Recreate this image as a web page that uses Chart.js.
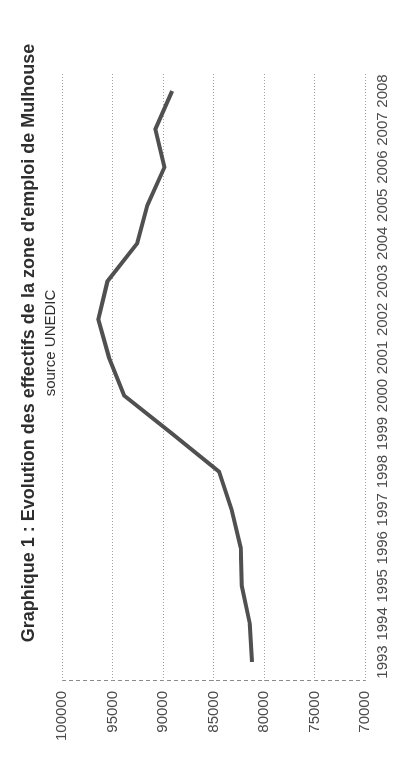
<!DOCTYPE html>
<html>
<head>
<meta charset="utf-8">
<script src="https://cdn.jsdelivr.net/npm/chart.js@4/dist/chart.umd.min.js"></script>
<style>
  html, body { margin:0; padding:0; background:#fff; width:403px; height:779px; overflow:hidden; }
  #rot { position:absolute; left:0; top:0; width:779px; height:403px; transform-origin:0 0;
         transform: translate(0px, 779px) rotate(-90deg); background:#fff; }
  #chart { position:absolute; left:0; top:0; }
  .t { position:absolute; white-space:nowrap; transform:translateX(-50%);
       font-family:"Liberation Sans", Arial, sans-serif; color:#2e2e2e; }
  #title { left:436px; top:19px; font-size:18px; line-height:18px; font-weight:bold; }
  #subtitle { left:436px; top:42px; font-size:15px; line-height:15px; }
  .frame { position:absolute; }
</style>
</head>
<body>
<div class="frame" style="left:0;top:2px;width:403px;height:2px;background:#5a5a5a;"></div>
<div class="frame" style="left:0;top:751px;width:403px;height:2px;background:#5a5a5a;"></div>
<div class="frame" style="left:399px;top:4px;width:1px;height:747px;background:#c8c8c8;"></div>
<div id="rot">
  <canvas id="chart" width="779" height="403"></canvas>
  <div id="title" class="t">Graphique 1 : Evolution des effectifs de la zone d'emploi de Mulhouse</div>
  <div id="subtitle" class="t">source UNEDIC</div>
</div>
<script>
const years = ['1993','1994','1995','1996','1997','1998','1999','2000','2001','2002','2003','2004','2005','2006','2007','2008'];
const effectifs = [81200, 81400, 82200, 82300, 83200, 84450, 89100, 93850, 95350, 96400, 95500, 92550, 91550, 89850, 90750, 89100];
const valueMin = 70000;
const valueMax = 100000;
const valueStep = 5000;

const FONT = '"Liberation Sans", Arial, sans-serif';

new Chart(document.getElementById('chart'), {
  type: 'line',
  data: {
    labels: years,
    datasets: [{
      data: effectifs,
      borderColor: '#505050',
      borderWidth: 4,
      pointRadius: 0,
      tension: 0,
      fill: false
    }]
  },
  options: {
    responsive: false,
    animation: false,
    devicePixelRatio: 1,
    layout: { padding: { left: 0, top: 62, right: 72, bottom: 0 } },
    plugins: { legend: { display: false }, tooltip: { enabled: false }, title: { display: false } },
    scales: {
      x: {
        type: 'category',
        offset: true,
        grid: {
          offset: true,
          drawTicks: false,
          lineWidth: 1,
          color: c => (c.index === 0 ? '#8a8a8a' : 'rgba(0,0,0,0)')
        },
        border: { display: false, dash: [4, 3] },
        ticks: { autoSkip: false, maxRotation: 0, minRotation: 0, padding: 9,
                 color: '#4a4a4a', font: { family: FONT, size: 15 } },
        afterFit: s => { s.height = 38; }
      },
      y: {
        min: valueMin,
        max: valueMax,
        ticks: { stepSize: valueStep, padding: 10, color: '#4a4a4a',
                 font: { family: FONT, size: 15 }, callback: v => String(v) },
        grid: { drawTicks: false, color: '#a0a0a0', lineWidth: 1 },
        border: { display: false, dash: [1, 2] },
        afterFit: s => { s.width = 98; }
      }
    }
  }
});
</script>
</body>
</html>
